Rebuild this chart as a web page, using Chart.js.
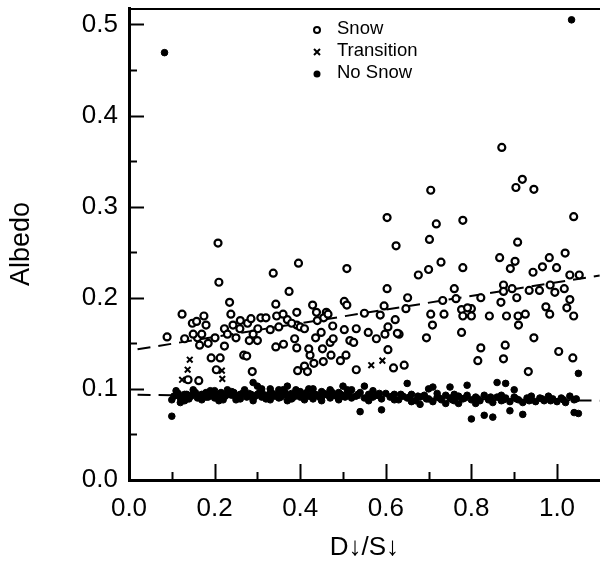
<!DOCTYPE html>
<html>
<head>
<meta charset="utf-8">
<script src="https://cdn.jsdelivr.net/npm/chart.js@4/dist/chart.umd.min.js"></script>
<style>
  html, body { margin: 0; padding: 0; background: #fff; overflow: hidden; }
  #wrap { width: 606px; height: 563px; }
</style>
</head>
<body>
<div id="wrap"><canvas id="chart" width="606" height="563"></canvas></div>
<script>
// axis ticks
const xMajor = [0, 0.2, 0.4, 0.6, 0.8, 1.0];
const xMinor = [0.1, 0.3, 0.5, 0.7, 0.9];
const yMajor = [0, 0.1, 0.2, 0.3, 0.4, 0.5];
const yMinor = [0.05, 0.15, 0.25, 0.35, 0.45];

const legendLabels = ['Snow', 'Transition', 'No Snow'];

// [D/S, albedo]
const snowPoints = [
  [0.089,0.157],[0.124,0.182],[0.130,0.155],[0.138,0.110],[0.163,0.109],[0.175,0.180],[0.192,0.134],
  [0.201,0.156],[0.208,0.260],[0.210,0.217],[0.213,0.134],[0.204,0.121],[0.235,0.195],[0.238,0.182],
  [0.223,0.166],[0.230,0.160],[0.243,0.170],[0.250,0.156],[0.259,0.166],[0.223,0.147],[0.288,0.119],
  [0.281,0.153],[0.277,0.172],[0.285,0.177],[0.308,0.178],[0.301,0.166],[0.300,0.153],[0.337,0.227],
  [0.343,0.193],[0.345,0.180],[0.343,0.146],[0.361,0.149],[0.374,0.207],[0.396,0.238],[0.392,0.184],
  [0.392,0.170],[0.387,0.155],[0.392,0.145],[0.394,0.120],[0.410,0.125],[0.417,0.119],[0.423,0.137],
  [0.420,0.144],[0.429,0.192],[0.438,0.184],[0.461,0.184],[0.436,0.156],[0.449,0.162],[0.452,0.144],
  [0.454,0.130],[0.432,0.128],[0.470,0.151],[0.477,0.155],[0.476,0.169],[0.494,0.131],[0.503,0.196],
  [0.509,0.232],[0.509,0.192],[0.503,0.165],[0.516,0.153],[0.525,0.151],[0.507,0.137],[0.531,0.166],
  [0.531,0.121],[0.550,0.183],[0.559,0.162],[0.578,0.155],[0.587,0.181],[0.596,0.191],[0.603,0.288],
  [0.603,0.210],[0.605,0.168],[0.605,0.143],[0.598,0.160],[0.618,0.123],[0.624,0.257],[0.622,0.176],
  [0.631,0.160],[0.643,0.126],[0.647,0.188],[0.651,0.200],[0.676,0.225],[0.695,0.156],[0.702,0.264],
  [0.700,0.231],[0.705,0.318],[0.705,0.182],[0.709,0.170],[0.718,0.281],[0.729,0.239],[0.733,0.197],
  [0.736,0.182],[0.760,0.210],[0.764,0.199],[0.777,0.187],[0.777,0.162],[0.780,0.285],[0.780,0.233],
  [0.780,0.180],[0.800,0.188],[0.800,0.180],[0.815,0.131],[0.822,0.145],[0.822,0.200],[0.842,0.180],
  [0.866,0.244],[0.869,0.195],[0.875,0.214],[0.875,0.207],[0.875,0.133],[0.871,0.365],[0.879,0.148],
  [0.882,0.180],[0.891,0.232],[0.895,0.210],[0.902,0.240],[0.904,0.321],[0.908,0.261],[0.906,0.200],
  [0.909,0.180],[0.910,0.170],[0.919,0.330],[0.926,0.182],[0.933,0.119],[0.946,0.319],[0.935,0.208],
  [0.944,0.228],[0.946,0.156],[0.959,0.208],[0.966,0.234],[0.974,0.190],[0.983,0.182],[0.982,0.244],
  [0.984,0.214],[0.995,0.206],[0.999,0.233],[1.004,0.141],[1.019,0.249],[1.017,0.210],[1.023,0.189],
  [1.030,0.198],[1.037,0.134],[1.039,0.289],[1.030,0.225],[1.052,0.225],[1.039,0.180],
  [0.148,0.172],[0.158,0.174],[0.180,0.170],[0.160,0.156],[0.165,0.148],[0.170,0.160],[0.185,0.150],
  [0.150,0.160],[0.268,0.137],[0.275,0.136],[0.370,0.176],[0.380,0.172],[0.400,0.168],[0.410,0.166],
  [0.350,0.168],[0.472,0.137],[0.627,0.161],[0.791,0.189],[0.260,0.175],[0.320,0.178],[0.330,0.165],
  [0.290,0.160],[0.360,0.182],[0.440,0.175],[0.455,0.178],[0.465,0.182]
];

const transitionPoints = [
  [0.124,0.110],[0.142,0.132],[0.137,0.121],[0.217,0.120],[0.218,0.111],[0.566,0.126],[0.592,0.131]
];

const noSnowPoints = [
  [0.083,0.469],[1.034,0.505],
  [0.10,0.088],[0.10,0.070],[0.11,0.093],[0.12,0.090],[0.12,0.085],[0.13,0.094],[0.14,0.092],[0.14,0.089],
  [0.15,0.095],[0.16,0.093],[0.16,0.090],[0.17,0.094],[0.18,0.091],[0.18,0.096],[0.19,0.093],[0.20,0.098],
  [0.20,0.090],[0.21,0.094],[0.22,0.092],[0.22,0.088],[0.23,0.095],[0.24,0.093],[0.24,0.097],[0.25,0.091],
  [0.26,0.094],[0.26,0.089],[0.27,0.096],[0.28,0.092],[0.28,0.095],[0.29,0.090],[0.29,0.107],[0.30,0.094],
  [0.30,0.103],[0.31,0.091],[0.31,0.097],[0.32,0.093],[0.32,0.089],[0.33,0.095],[0.33,0.100],[0.34,0.092],
  [0.35,0.096],[0.35,0.090],[0.36,0.094],[0.36,0.099],[0.37,0.092],[0.37,0.103],[0.38,0.095],[0.38,0.089],
  [0.39,0.093],[0.40,0.097],[0.40,0.091],[0.41,0.094],[0.42,0.100],[0.42,0.092],[0.43,0.095],[0.43,0.089],
  [0.44,0.093],[0.45,0.097],[0.45,0.091],[0.46,0.094],[0.47,0.090],[0.47,0.098],[0.48,0.093],[0.49,0.096],
  [0.49,0.089],[0.50,0.092],[0.50,0.103],[0.51,0.095],[0.52,0.090],[0.52,0.099],
  [0.105,0.092],[0.115,0.095],[0.125,0.091],[0.135,0.094],[0.145,0.092],[0.155,0.096],[0.165,0.092],
  [0.175,0.094],[0.185,0.091],[0.195,0.095],[0.205,0.093],[0.215,0.096],[0.225,0.092],[0.235,0.094],
  [0.245,0.096],[0.255,0.092],[0.265,0.095],[0.275,0.091],[0.285,0.094],[0.295,0.092],[0.305,0.096],
  [0.315,0.093],[0.325,0.091],[0.335,0.095],[0.345,0.093],[0.355,0.091],[0.365,0.096],[0.375,0.093],
  [0.385,0.091],[0.395,0.095],[0.405,0.093],[0.415,0.096],[0.425,0.092],[0.435,0.094],[0.445,0.091],
  [0.455,0.095],[0.465,0.093],[0.475,0.096],[0.485,0.092],[0.495,0.094],[0.505,0.091],[0.515,0.095],
  [0.11,0.098],[0.13,0.087],[0.15,0.099],[0.17,0.088],[0.19,0.098],[0.21,0.087],[0.23,0.099],
  [0.25,0.088],[0.27,0.099],[0.29,0.087],[0.31,0.100],[0.33,0.088],[0.35,0.099],[0.37,0.087],
  [0.39,0.099],[0.41,0.088],[0.43,0.100],[0.45,0.087],[0.47,0.099],[0.49,0.088],[0.51,0.099],
  [0.53,0.092],[0.54,0.096],[0.54,0.075],[0.55,0.090],[0.55,0.103],[0.56,0.094],[0.57,0.091],[0.57,0.098],
  [0.58,0.093],[0.59,0.089],[0.59,0.077],[0.60,0.095],[0.61,0.091],[0.62,0.094],[0.63,0.088],[0.64,0.092],
  [0.65,0.106],[0.65,0.090],[0.66,0.094],[0.67,0.087],[0.68,0.091],[0.68,0.083],[0.69,0.093],[0.70,0.089],
  [0.70,0.100],[0.71,0.086],[0.71,0.102],[0.72,0.091],[0.73,0.088],[0.74,0.093],[0.74,0.084],[0.75,0.090],
  [0.75,0.102],[0.76,0.087],[0.77,0.092],[0.77,0.084],[0.78,0.089],[0.79,0.104],[0.79,0.093],[0.80,0.088],
  [0.80,0.067],[0.81,0.091],[0.82,0.087],[0.83,0.093],[0.83,0.071],[0.84,0.088],[0.85,0.085],[0.85,0.069],
  [0.86,0.091],[0.86,0.107],[0.87,0.087],[0.88,0.090],[0.88,0.106],[0.89,0.086],[0.89,0.076],[0.90,0.091],
  [0.90,0.099],[0.91,0.088],[0.92,0.085],[0.92,0.072],[0.93,0.090],[0.94,0.088],[0.95,0.086],[0.96,0.090],
  [0.97,0.087],[0.99,0.089],[1.00,0.086],[1.01,0.090],[1.03,0.092],[1.04,0.088],[1.05,0.073],[1.04,0.074],
  [1.05,0.117],
  [0.535,0.094],[0.565,0.092],[0.585,0.095],[0.615,0.092],[0.635,0.094],[0.655,0.091],[0.675,0.092],
  [0.695,0.089],[0.725,0.090],[0.755,0.088],[0.785,0.090],[0.815,0.089],[0.845,0.091],[0.875,0.088],
  [0.905,0.089],[0.935,0.087],[0.965,0.089],[0.985,0.087],[1.015,0.088],[1.045,0.089],
  [0.56,0.087],[0.62,0.088],[0.66,0.086],[0.72,0.095],[0.76,0.094],[0.81,0.084],[0.87,0.093],
  [0.94,0.092],[0.98,0.092],[1.02,0.085]
];

// dashed fit lines
const fitX = [0.02, 1.1];
const snowFitY = [0.1435, 0.2245];
const noSnowFitY = [0.0935, 0.087];

const FONT = "'Liberation Sans', Arial, Helvetica, sans-serif";
const toXY = pts => pts.map(([x, y]) => ({ x, y }));

// inward ticks, top frame line and the in-plot legend
const frame = {
  id: 'frame',
  afterDraw(chart) {
    const { ctx, chartArea: a, scales: { x, y } } = chart;
    ctx.save();
    ctx.strokeStyle = '#000';
    ctx.fillStyle = '#000';

    ctx.lineWidth = 2;
    ctx.beginPath();
    ctx.moveTo(a.left, a.top + 1);
    ctx.lineTo(a.right + 5, a.top + 1);
    ctx.stroke();

    const tick = (vals, len, horiz) => {
      vals.forEach(v => {
        ctx.beginPath();
        if (horiz) {
          const px = Math.round(x.getPixelForValue(v)) + 0.5;
          ctx.moveTo(px, a.bottom);
          ctx.lineTo(px, a.bottom - len);
        } else {
          const py = Math.round(y.getPixelForValue(v)) + 0.5;
          ctx.moveTo(a.left, py);
          ctx.lineTo(a.left + len, py);
        }
        ctx.stroke();
      });
    };
    ctx.lineWidth = 2;
    tick(xMajor.slice(1), 16, true);
    tick(xMinor, 8, true);
    tick(yMajor.slice(1), 15, false);
    tick(yMinor, 8, false);

    // legend
    const mx = 317, tx = 337, y0 = 29, dy = 22;
    ctx.font = '18.5px ' + FONT;
    ctx.textBaseline = 'middle';
    ctx.textAlign = 'left';
    legendLabels.forEach((lab, i) => {
      const ly = y0 + i * dy;
      ctx.lineWidth = 2;
      ctx.beginPath();
      if (i === 0) {
        ctx.arc(mx, ly + 1, 3, 0, Math.PI * 2);
        ctx.stroke();
      } else if (i === 1) {
        ctx.moveTo(mx - 3, ly - 2); ctx.lineTo(mx + 3, ly + 4);
        ctx.moveTo(mx + 3, ly - 2); ctx.lineTo(mx - 3, ly + 4);
        ctx.stroke();
      } else {
        ctx.arc(mx, ly + 1, 3.5, 0, Math.PI * 2);
        ctx.fill();
      }
      ctx.fillText(lab, tx, ly);
    });
    ctx.restore();
  }
};

const ctx = document.getElementById('chart').getContext('2d');
new Chart(ctx, {
  type: 'scatter',
  data: {
    datasets: [
      {
        label: 'No Snow',
        data: toXY(noSnowPoints),
        pointStyle: 'circle',
        pointRadius: 3.3,
        backgroundColor: '#000',
        borderColor: '#000',
        borderWidth: 1
      },
      {
        label: 'Snow',
        data: toXY(snowPoints),
        pointStyle: 'circle',
        pointRadius: 3.5,
        backgroundColor: '#fff',
        borderColor: '#000',
        borderWidth: 2.2
      },
      {
        label: 'Transition',
        data: toXY(transitionPoints),
        pointStyle: 'crossRot',
        pointRadius: 4,
        borderColor: '#000',
        borderWidth: 2
      },
      {
        type: 'line',
        label: 'Snow fit',
        data: fitX.map((x, i) => ({ x, y: snowFitY[i] })),
        borderColor: '#000',
        borderWidth: 2,
        borderDash: [13, 8],
        pointRadius: 0,
        fill: false
      },
      {
        type: 'line',
        label: 'No Snow fit',
        data: fitX.map((x, i) => ({ x, y: noSnowFitY[i] })),
        borderColor: '#000',
        borderWidth: 2,
        borderDash: [13, 8],
        pointRadius: 0,
        fill: false
      }
    ]
  },
  options: {
    responsive: false,
    animation: false,
    layout: { padding: { top: 8, right: 3, bottom: 0, left: 0 } },
    plugins: { legend: { display: false }, tooltip: { enabled: false } },
    scales: {
      x: {
        type: 'linear',
        min: 0,
        max: 1.1,
        afterBuildTicks: s => { s.ticks = xMajor.map(v => ({ value: v })); },
        afterFit: s => { s.height = 83; s.paddingLeft = 0; s.paddingRight = 0; },
        ticks: {
          color: '#000',
          font: { family: FONT, size: 26 },
          padding: 13,
          maxRotation: 0,
          callback: v => Number(v).toFixed(1)
        },
        grid: { drawOnChartArea: false, drawTicks: false },
        border: { display: true, color: '#000', width: 3 },
        title: {
          display: true,
          text: 'D↓/S↓',
          color: '#000',
          font: { family: FONT, size: 26, lineHeight: 1 },
          padding: { top: 0, bottom: 2 }
        }
      },
      y: {
        type: 'linear',
        min: 0,
        max: 0.518,
        afterBuildTicks: s => { s.ticks = yMajor.map(v => ({ value: v })); },
        afterFit: s => { s.width = 129; s.paddingTop = 0; s.paddingBottom = 0; },
        ticks: {
          color: '#000',
          font: { family: FONT, size: 26 },
          padding: 11,
          callback: v => Number(v).toFixed(1)
        },
        grid: { drawOnChartArea: false, drawTicks: false },
        border: { display: true, color: '#000', width: 3 },
        title: {
          display: true,
          text: 'Albedo',
          color: '#000',
          font: { family: FONT, size: 27, lineHeight: 1 },
          padding: { top: 8, bottom: 0 }
        }
      }
    }
  },
  plugins: [frame]
});
</script>
</body>
</html>
